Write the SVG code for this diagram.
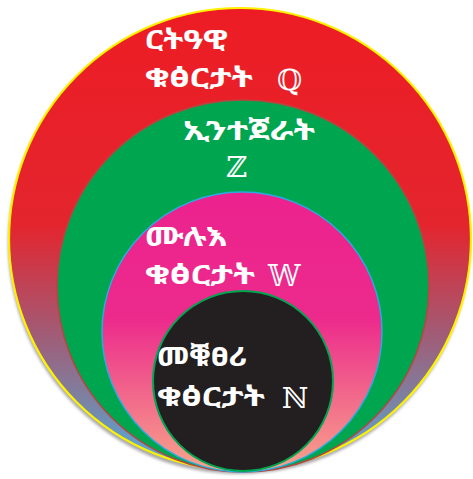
<svg xmlns="http://www.w3.org/2000/svg" width="473" height="479" viewBox="0 0 473 479">
<defs>
<linearGradient id="gOuter" x1="0" y1="8" x2="0" y2="470" gradientUnits="userSpaceOnUse">
<stop offset="0" stop-color="#ED1C24"/>
<stop offset="0.47" stop-color="#E4252E"/>
<stop offset="0.7" stop-color="#A35A74"/>
<stop offset="0.85" stop-color="#7C82A3"/>
<stop offset="1" stop-color="#4FB2E2"/>
</linearGradient>
<linearGradient id="gPink" x1="0" y1="192" x2="0" y2="472" gradientUnits="userSpaceOnUse">
<stop offset="0" stop-color="#EC228E"/>
<stop offset="0.45" stop-color="#EC2A8C"/>
<stop offset="1" stop-color="#F7A58A"/>
</linearGradient>
<filter id="blur" x="-10%" y="-10%" width="120%" height="120%">
<feGaussianBlur stdDeviation="1.5"/>
</filter>
</defs>
<style>
.lbl{font-family:"Noto Sans Ethiopic","Abyssinica SIL","Noto Serif Ethiopic","DejaVu Sans",sans-serif;font-size:27px;font-weight:bold;fill:#FFFFFF}
.sym{font-family:"DejaVu Serif","DejaVu Sans",serif;font-size:29px;font-weight:normal;fill:#FFFFFF}
</style>
<g id="rational">
<circle cx="239" cy="243" r="231" fill="#A8A8A8" filter="url(#blur)"/>
<circle cx="240" cy="239" r="231" fill="url(#gOuter)" stroke="#FFF200" stroke-width="2.2"/>
<text class="lbl" x="145" y="49" textLength="83" lengthAdjust="spacingAndGlyphs">ርትዓዊ</text>
<text class="lbl" x="145" y="87" textLength="108" lengthAdjust="spacingAndGlyphs">ቁፅርታት</text>
<text class="sym" x="277" y="90">ℚ</text>
</g>
<g id="integers">
<circle cx="243" cy="286" r="186" fill="#00A54F" stroke="#B8453F" stroke-width="1.5"/>
<text class="lbl" x="183" y="140" textLength="132" lengthAdjust="spacingAndGlyphs">ኢንተጀራት</text>
<text class="sym" x="226" y="177">ℤ</text>
</g>
<g id="whole">
<circle cx="242" cy="332" r="140" fill="url(#gPink)" stroke="#29ABE2" stroke-width="1.5"/>
<text class="lbl" x="145" y="246" textLength="82" lengthAdjust="spacingAndGlyphs">ሙሉእ</text>
<text class="lbl" x="145" y="284" textLength="110" lengthAdjust="spacingAndGlyphs">ቁፅርታት</text>
<text class="sym" x="268" y="286">𝕎</text>
</g>
<g id="natural">
<circle cx="243" cy="381" r="90" fill="#231F20" stroke="#00A54F" stroke-width="2"/>
<text class="lbl" x="157" y="366" textLength="90" lengthAdjust="spacingAndGlyphs">መቑፀሪ</text>
<text class="lbl" x="157" y="406" textLength="108" lengthAdjust="spacingAndGlyphs">ቁፅርታት</text>
<text class="sym" x="282" y="408">ℕ</text>
</g>
<g id="connectors"/>
</svg>
